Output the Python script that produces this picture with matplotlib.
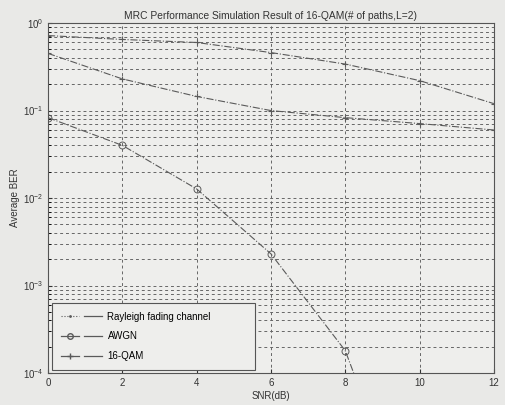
import matplotlib
matplotlib.use("Agg")
import matplotlib.pyplot as plt
from matplotlib.lines import Line2D
from matplotlib.legend_handler import HandlerTuple
import numpy as np

plt.rcParams['font.family'] = ['Liberation Sans', 'DejaVu Sans']

snr = [0, 2, 4, 6, 8, 10, 12]
qam16 = [0.72, 0.65, 0.60, 0.46, 0.34, 0.22, 0.12]
rayleigh = [0.45, 0.23, 0.145, 0.10, 0.083, 0.071, 0.060]
snr_awgn = [0, 2, 4, 6, 8, 10]
awgn = [0.083, 0.040, 0.0127, 0.0023, 1.8e-4, 1e-6]

title = "MRC Performance Simulation Result of 16-QAM(# of paths,L=2)"
xlabel = "SNR(dB)"
ylabel = "Average BER"
labels = ["Rayleigh fading channel", "AWGN", "16-QAM"]

bg = '#e9e9e7'
ink = '#5a5a5a'
fig = plt.figure(figsize=(5.06, 4.05), dpi=100, facecolor=bg)
ax = fig.add_axes([0.095, 0.079, 0.881, 0.864], facecolor='#eeeeec')

ax.plot(snr, qam16, color=ink, lw=0.8, ls='-.', marker='+', ms=5, mew=0.8)
ax.plot(snr, rayleigh, color=ink, lw=0.8, ls='-.', marker='+', ms=5, mew=0.8)
ax.plot(snr_awgn, awgn, color=ink, lw=0.8, ls='-.', marker='o', ms=5,
        mfc='none', mew=0.7)

ax.set_yscale('log')
ax.set_xlim(0, 12)
ax.set_ylim(1e-4, 1)
ax.set_xticks(snr)
ax.grid(True, which='major', color='#666666', ls=(0, (3, 3)), lw=0.7)
ax.grid(True, which='minor', axis='y', color='#666666', ls=(0, (3, 3)), lw=0.7)
ax.tick_params(labelsize=7, colors='#333333', direction='in', length=3)
ax.tick_params(which='minor', direction='in', length=2)
for s in ax.spines.values():
    s.set_color('#555555')
    s.set_linewidth(0.8)

ax.set_title(title, fontsize=7.4, color='#333333', pad=3)
ax.set_xlabel(xlabel, fontsize=7, color='#333333', labelpad=2)
ax.set_ylabel(ylabel, fontsize=7, color='#333333', labelpad=2)

dash = Line2D([], [], color=ink, lw=0.9, ls='-')
h1 = (Line2D([], [], color=ink, lw=0.8, ls=':', marker='.', ms=2), dash)
h2 = (Line2D([], [], color=ink, lw=0.9, ls='-', marker='o', ms=4, mfc='none'), dash)
h3 = (Line2D([], [], color=ink, lw=0.9, ls='-', marker='+', ms=5), dash)
leg = ax.legend([h1, h2, h3], labels, loc='lower left', fontsize=7,
                bbox_to_anchor=(0.009, 0.009, 0.455, 0.19), mode='expand',
                handler_map={tuple: HandlerTuple(ndivide=None, pad=0.5)},
                handlelength=4.2, handletextpad=0.6, borderpad=0.9,
                labelspacing=1.0, fancybox=False, framealpha=1,
                facecolor='#eeeeec', edgecolor='#555555', borderaxespad=0.0)
leg.get_frame().set_linewidth(0.8)

fig.savefig('out.png', dpi=100, facecolor=bg)
